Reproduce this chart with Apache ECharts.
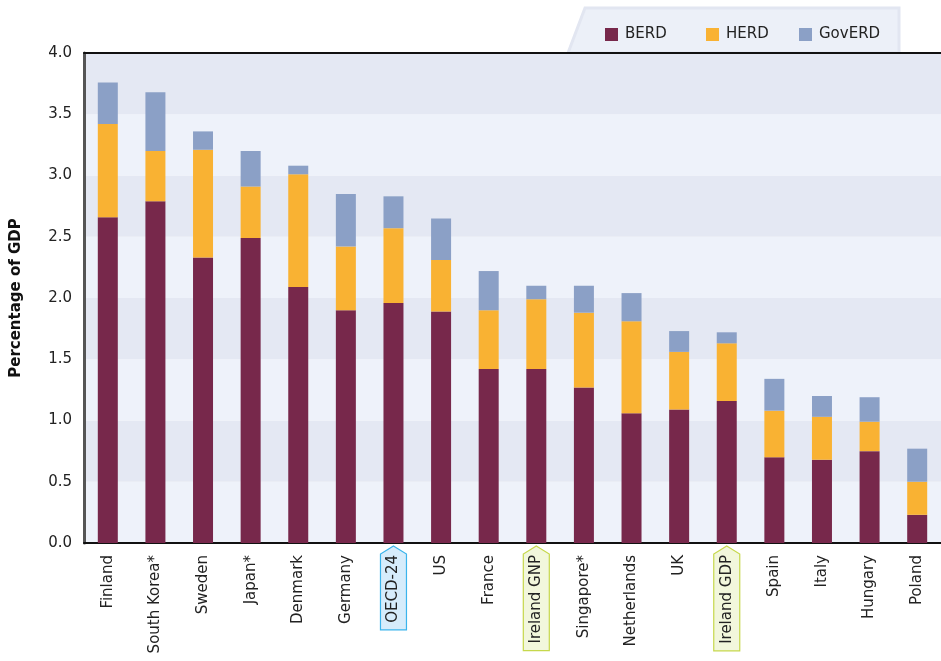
<!DOCTYPE html>
<html>
<head>
<meta charset="utf-8">
<script src="https://cdn.jsdelivr.net/npm/echarts@6/dist/echarts.min.js"></script>
<style>
html,body{margin:0;padding:0;background:#fff;}
#c{width:941px;height:661px;}
</style>
</head>
<body>
<div id="c"></div>
<script>
var categories = ['Finland','South Korea*','Sweden','Japan*','Denmark','Germany','OECD-24','US','France','Ireland GNP','Singapore*','Netherlands','UK','Ireland GDP','Spain','Italy','Hungary','Poland'];
var berd = [2.66,2.79,2.33,2.49,2.09,1.90,1.96,1.89,1.42,1.42,1.27,1.06,1.09,1.16,0.70,0.68,0.75,0.23];
var herd = [0.76,0.41,0.88,0.42,0.92,0.52,0.61,0.42,0.48,0.57,0.61,0.75,0.47,0.47,0.38,0.35,0.24,0.27];
var gov  = [0.34,0.48,0.15,0.29,0.07,0.43,0.26,0.34,0.32,0.11,0.22,0.23,0.17,0.09,0.26,0.17,0.20,0.27];
var seriesNames = ['BERD','HERD','GovERD'];
var yTicks = ['0.0','0.5','1.0','1.5','2.0','2.5','3.0','3.5','4.0'];
var highlighted = ['OECD-24','Ireland GNP','Ireland GDP'];
var highlightStyle = {
  'OECD-24': {fill:'#d6ecfb', stroke:'#3ab4ec'},
  'Ireland GNP': {fill:'#f2f7dc', stroke:'#c6d84c'},
  'Ireland GDP': {fill:'#f2f7dc', stroke:'#c6d84c'}
};

var FONT = "'DejaVu Sans', sans-serif";
var colors = ['#77284b','#f9b233','#8ba0c6'];
var chart = echarts.init(document.getElementById('c'), null, {renderer:'canvas'});

function legendItem(name, left){
  return {
    data:[name], left:left, top:22, itemWidth:13, itemHeight:13, itemGap:0,
    icon:'rect', textStyle:{fontFamily:FONT, fontSize:15, color:'#222', padding:[0,0,0,2]},
    selectedMode:false
  };
}

var option = {
  animation:false,
  color: colors,
  textStyle:{fontFamily:FONT},
  legend:[legendItem('BERD',600), legendItem('HERD',701), legendItem('GovERD',794)],
  grid:{left:84, top:53, right:0, bottom:118, containLabel:false},
  xAxis:[{
    type:'category', data:categories, position:'bottom',
    axisLine:{show:true, lineStyle:{color:'#111', width:2}},
    axisTick:{show:false},
    axisLabel:{rotate:90, margin:12, fontSize:15, color:'#222', fontFamily:FONT, interval:0}
  },{
    type:'category', data:categories, position:'top',
    axisLine:{show:true, lineStyle:{color:'#111', width:2}},
    axisTick:{show:false}, axisLabel:{show:false}
  }],
  yAxis:{
    type:'value', min:0, max:4, interval:0.5,
    name:'Percentage of GDP', nameLocation:'middle', nameGap:60,
    nameTextStyle:{fontFamily:FONT, fontWeight:'bold', fontSize:15, color:'#111'},
    axisLine:{show:true, lineStyle:{color:'#555', width:3}},
    axisTick:{show:false},
    axisLabel:{margin:12, fontSize:15, color:'#222', fontFamily:FONT,
      formatter:function(v){ return yTicks[Math.round(v/0.5)]; }},
    splitLine:{show:false},
    splitArea:{show:true, areaStyle:{color:['#eef2fa','#e4e8f3']}}
  },
  series:[
    {name:seriesNames[0], type:'bar', stack:'t', data:berd, barWidth:20, itemStyle:{color:colors[0]}},
    {name:seriesNames[1], type:'bar', stack:'t', data:herd, barWidth:20, itemStyle:{color:colors[1]}},
    {name:seriesNames[2], type:'bar', stack:'t', data:gov, barWidth:20, itemStyle:{color:colors[2]}}
  ]
};
chart.setOption(option);

// decorations: legend tab and label tags
var ctx = document.createElement('canvas').getContext('2d');
ctx.font = '15px ' + FONT;
var axisY = chart.convertToPixel({yAxisIndex:0}, 0);
var graphics = [{
  type:'polygon', z:-5,
  shape:{points:[[568,53],[585,8],[899,8],[899,53]]},
  style:{fill:'#ecf0f8', stroke:'#e2e6f1', lineWidth:3}
}];
highlighted.forEach(function(name){
  var idx = categories.indexOf(name);
  var cx = chart.convertToPixel({xAxisIndex:0}, idx);
  var tw = ctx.measureText(name).width;
  var half = 13;
  var top = axisY + 3, shoulder = axisY + 11, bottom = axisY + 12 + tw + 7;
  graphics.push({
    type:'polygon', z:-5,
    shape:{points:[[cx, top],[cx+half, shoulder],[cx+half, bottom],[cx-half, bottom],[cx-half, shoulder]]},
    style:{fill:highlightStyle[name].fill, stroke:highlightStyle[name].stroke, lineWidth:1.2}
  });
});
chart.setOption({graphic:graphics});
</script>
</body>
</html>
